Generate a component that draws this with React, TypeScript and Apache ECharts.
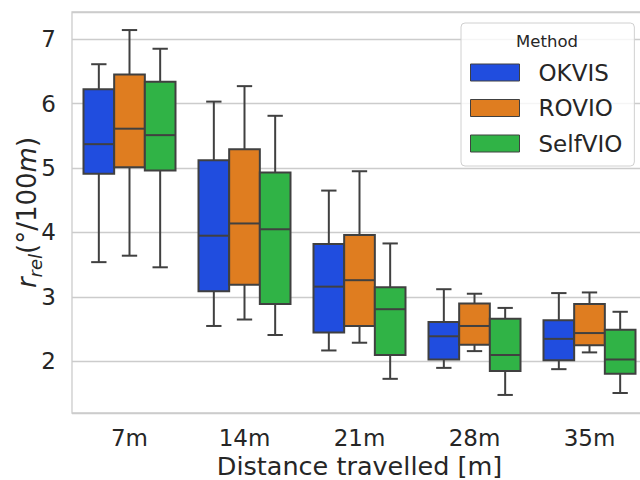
import React, { useEffect, useRef } from "react";
import * as echarts from "echarts";

// Distance buckets on the x axis
const categories = ["7m", "14m", "21m", "28m", "35m"];
const methods = ["OKVIS", "ROVIO", "SelfVIO"];

// Five-number summaries per bucket: [lower whisker, Q1, median, Q3, upper whisker]
const okvis = [
  [3.54, 4.91, 5.37, 6.22, 6.61],
  [2.55, 3.09, 3.95, 5.12, 6.03],
  [2.17, 2.45, 3.16, 3.82, 4.65],
  [1.9, 2.03, 2.39, 2.61, 3.12],
  [1.88, 2.02, 2.35, 2.64, 3.06],
];
const rovio = [
  [3.64, 5.01, 5.61, 6.45, 7.14],
  [2.65, 3.19, 4.14, 5.29, 6.27],
  [2.29, 2.55, 3.26, 3.96, 4.95],
  [2.16, 2.26, 2.55, 2.9, 3.05],
  [2.14, 2.25, 2.44, 2.89, 3.07],
];
const selfvio = [
  [3.46, 4.96, 5.51, 6.34, 6.85],
  [2.41, 2.89, 4.05, 4.93, 5.81],
  [1.73, 2.1, 2.81, 3.15, 3.83],
  [1.48, 1.85, 2.1, 2.66, 2.83],
  [1.51, 1.81, 2.03, 2.49, 2.77],
];

const colors = ["#204ddf", "#df7d20", "#30b346"];
const edge = "#404040";
const font = "DejaVu Sans";
const ink = "#262626";

function makeSeries(name: string, stats: number[][], k: number, n: number) {
  return {
    type: "custom",
    name,
    itemStyle: { color: colors[k] },
    encode: { x: 0, y: [1, 2, 3, 4, 5] },
    data: stats.map((s, i) => [i, ...s]),
    renderItem: (_params: any, api: any) => {
      const c = api.value(0);
      const pLo = api.coord([c, api.value(1)]);
      const pQ1 = api.coord([c, api.value(2)]);
      const pMed = api.coord([c, api.value(3)]);
      const pQ3 = api.coord([c, api.value(4)]);
      const pHi = api.coord([c, api.value(5)]);
      const band = api.size([1, 0])[0];
      const w = (band * 0.8) / n;
      const cx = pLo[0] + (k - (n - 1) / 2) * w;
      const lineStyle = { stroke: edge, lineWidth: 2 };
      const cap = w / 4;
      return {
        type: "group",
        children: [
          { type: "line", shape: { x1: cx, y1: pLo[1], x2: cx, y2: pQ1[1] }, style: lineStyle },
          { type: "line", shape: { x1: cx, y1: pQ3[1], x2: cx, y2: pHi[1] }, style: lineStyle },
          { type: "line", shape: { x1: cx - cap, y1: pLo[1], x2: cx + cap, y2: pLo[1] }, style: lineStyle },
          { type: "line", shape: { x1: cx - cap, y1: pHi[1], x2: cx + cap, y2: pHi[1] }, style: lineStyle },
          {
            type: "rect",
            shape: { x: cx - w / 2, y: pQ3[1], width: w, height: pQ1[1] - pQ3[1] },
            style: { fill: colors[k], stroke: edge, lineWidth: 2 },
          },
          { type: "line", shape: { x1: cx - w / 2, y1: pMed[1], x2: cx + w / 2, y2: pMed[1] }, style: lineStyle },
        ],
      };
    },
  };
}

export default function App() {
  const ref = useRef<HTMLDivElement>(null);
  useEffect(() => {
    if (!ref.current) return;
    const chart = echarts.init(ref.current, undefined, { renderer: "svg" });
    const all = [okvis, rovio, selfvio];
    chart.setOption({
      animation: false,
      backgroundColor: "#ffffff",
      textStyle: { fontFamily: font },
      grid: {
        left: 72,
        right: -7,
        top: 12,
        bottom: 67,
        containLabel: false,
        outerBoundsMode: "none",
        show: true,
        borderColor: "#cccccc",
        borderWidth: 1.3,
      },
      xAxis: {
        type: "category",
        data: categories,
        axisLine: { show: false },
        axisTick: { show: false },
        axisLabel: { fontSize: 23, color: ink, fontFamily: font, margin: 13 },
        name: "Distance travelled [m]",
        nameLocation: "middle",
        nameGap: 40,
        nameMoveOverlap: false,
        nameTextStyle: { fontSize: 25.5, color: ink, fontFamily: font },
        splitLine: { show: false },
      },
      yAxis: {
        type: "value",
        min: 1.2,
        max: 7.42,
        axisLine: { show: false },
        axisTick: { show: false },
        axisLabel: {
          fontSize: 23,
          color: ink,
          fontFamily: font,
          margin: 16,
          showMinLabel: false,
          showMaxLabel: false,
          formatter: (v: number) => (Number.isInteger(v) ? String(v) : ""),
        },
        splitLine: { lineStyle: { color: "#cccccc", width: 1.3 } },
        name: "{i|r}{s|rel}(°/100{i|m})",
        nameLocation: "middle",
        nameRotate: 90,
        nameGap: 28,
        nameMoveOverlap: false,
        nameTextStyle: {
          fontSize: 26,
          color: ink,
          fontFamily: font,
          rich: {
            i: { fontSize: 26, fontStyle: "italic", color: ink, fontFamily: font },
            s: {
              fontSize: 18,
              fontStyle: "italic",
              color: ink,
              fontFamily: font,
              verticalAlign: "bottom",
              lineHeight: 34,
            },
          },
        },
      },
      legend: {
        orient: "vertical",
        left: 461,
        top: 23,
        data: methods,
        icon: "rect",
        itemWidth: 49,
        itemHeight: 17,
        itemGap: 12.5,
        padding: [38, 12, 11, 9],
        borderColor: "#d0d0d0",
        borderWidth: 1,
        borderRadius: 4,
        backgroundColor: "rgba(255,255,255,0.8)",
        itemStyle: { borderColor: edge, borderWidth: 1 },
        textStyle: {
          fontSize: 23,
          color: ink,
          fontFamily: font,
          lineHeight: 23,
          padding: [0, 0, 0, 14],
        },
      },
      graphic: [
        {
          type: "text",
          z: 100,
          x: 547,
          y: 41,
          style: {
            text: "Method",
            fontSize: 16.5,
            fontFamily: font,
            fill: ink,
            align: "center",
            verticalAlign: "middle",
          },
        },
      ],
      series: methods.map((m, k) => makeSeries(m, all[k], k, methods.length)),
    });
    return () => chart.dispose();
  }, []);
  return <div ref={ref} style={{ width: 640, height: 480, position: "absolute", left: 0, top: 0 }} />;
}
